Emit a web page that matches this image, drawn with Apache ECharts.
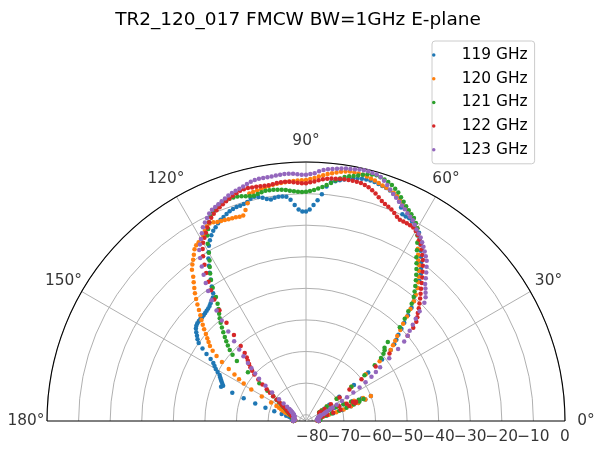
<!DOCTYPE html>
<html>
<head>
<meta charset="utf-8">
<script src="https://cdn.jsdelivr.net/npm/echarts@6/dist/echarts.min.js"></script>
<style>
  html, body { margin: 0; padding: 0; background: #fff; }
  #chart { width: 596px; height: 454px; }
</style>
</head>
<body>
<div id="chart"></div>
<script>
// E-plane pattern, normalised dB, one value per degree (0..180)
var angles = [];
for (var a = 0; a <= 180; a++) angles.push(a);

var angleTicks = [0, 30, 60, 90, 120, 150, 180];
var radialTicks = [-80, -70, -60, -50, -40, -30, -20, -10, 0];
var seriesNames = ['119 GHz', '120 GHz', '121 GHz', '122 GHz', '123 GHz'];
var colors = ['#1f77b4', '#ff7f0e', '#2ca02c', '#d62728', '#9467bd'];

var b119 = [
  -78, -78, -78.5, -78, -78, -77.5, -78, -78, -78.5, -78,
  -78, -78, -77.5, -77.5, -77, -75, -73, -70, -67, -64.5,
  -62, -60, -63, -66, -69, -72, -74.5, -76, -77, -77,
  -77, -77, -76.5, -76, -75, -73, -69, -63, -57, -51,
  -47, -45, -43.5, -42, -40, -38, -35.5, -33, -31, -29.5,
  -27, -25, -23, -21.5, -20, -18.5, -17, -15.5, -14, -12.5,
  -12, -11, -10.5, -10, -10, -9.8, -8, -6.5, -5.5, -4.8,
  -4.3, -4, -3.8, -3.5, -3.3, -3.2, -3.2, -3.3, -3.5, -3.8,
  -4.2, -4.6, -5, -5.5, -6, -7.5, -10, -12, -13.6, -15,
  -15.7, -15.7, -15, -13.5, -11.8, -10.7, -10.5, -10.5, -10.6, -11,
  -10.6, -10, -9.5, -9.1, -9.5, -10.2, -10.5, -10.7, -10.8, -11,
  -11.3, -11.8, -12.3, -12.8, -13.5, -14.3, -15, -16, -17.2, -18.6,
  -20.3, -22, -24, -26, -28, -30, -32, -33, -33.5, -34,
  -34.5, -34.8, -35, -35.2, -35.4, -35.5, -35.5, -35.6, -35.7, -36,
  -36.5, -37.3, -38.2, -39, -40, -42, -44, -46, -47.4, -48.2,
  -49, -50, -51, -51.5, -52, -52.5, -53, -53.5, -53, -57,
  -61, -65, -68.5, -71.5, -74, -75.5, -76.5, -77, -77.5, -77.5,
  -78, -78, -77.5, -78, -78, -78.5, -78, -78, -78, -78,
  -78
];
var o120 = [
  -78, -78, -78, -78.5, -78, -78, -77.5, -78, -78, -78,
  -78, -77.5, -78, -77.5, -76.5, -74.5, -72, -69.5, -67, -64.5,
  -62, -60, -62.5, -65.5, -68.5, -71.5, -74, -76, -77, -77,
  -77, -77, -77, -77, -76, -74, -70, -64, -58, -52,
  -47, -45.5, -44, -42.5, -40.5, -38.5, -36, -33.5, -31, -29,
  -27, -25.5, -24, -22.5, -21, -20, -18.5, -17, -15, -13,
  -11.5, -10.5, -9.5, -8.8, -8.2, -7.5, -6.8, -6, -5.2, -4.6,
  -4.2, -3.9, -3.6, -3.2, -2.8, -2.5, -2.2, -2, -1.9, -1.8,
  -1.8, -2, -2.3, -2.7, -3.1, -3.5, -4, -4.5, -5, -5.4,
  -5.7, -5.8, -5.8, -5.9, -6, -6.1, -6.2, -6.3, -6.5, -6.7,
  -7, -7.2, -7.4, -7.6, -7.8, -10.6, -12.5, -14, -14, -13.8,
  -13.7, -13.6, -13.4, -13.2, -13, -12.6, -12.4, -12.8, -13.8, -14.8,
  -15.5, -16, -16.4, -17.2, -18.5, -19.7, -20.8, -22, -24, -25.5,
  -27, -28.4, -30, -31.6, -33.2, -34.7, -36, -37.3, -38.6, -40,
  -41.2, -42.3, -43.4, -45, -47, -49.5, -52.5, -55, -57, -59,
  -62, -66, -69.5, -71.5, -72.5, -73.3, -74, -74.7, -75.3, -76,
  -76.5, -77, -77, -77.5, -77.5, -77.5, -78, -77.5, -78, -78,
  -78, -78, -78.5, -78, -78, -78, -78, -78.5, -78, -78,
  -78
];
var g121 = [
  -78, -78, -78, -78, -77.5, -78, -78, -78, -78, -78,
  -78, -78, -78, -77.5, -77, -75.5, -73.5, -71, -68.5, -66,
  -64, -62.5, -64, -66.5, -69, -71.5, -74, -76, -77, -77,
  -77, -77, -77, -77, -76, -74, -70, -64, -58.5, -54,
  -51, -49.5, -48.5, -48, -46, -40, -37, -34.5, -32, -30,
  -28.5, -27, -25.5, -24, -22.5, -21, -19.5, -17.5, -15.5, -13.5,
  -11.5, -10.3, -9.2, -8.5, -7.8, -7, -6, -5, -4, -3.2,
  -2.5, -2, -1.6, -1.3, -1.1, -1.2, -1.5, -2, -2.5, -3,
  -3.3, -3.8, -4.5, -5.3, -6.2, -7, -7.7, -8.3, -8.8, -9.2,
  -9.4, -9.5, -9.4, -9.2, -8.9, -8.6, -8.4, -8.2, -8.1, -8,
  -8, -8.2, -8.5, -8.8, -8.6, -8.3, -8, -7.7, -7.6, -7.6,
  -7.7, -7.9, -8.2, -8.8, -9.6, -10.5, -12, -13.8, -15.5, -17.8,
  -20.5, -22.7, -24.5, -26.3, -28.2, -30.5, -33.5, -35.5, -37, -38.3,
  -39.5, -40.8, -42.2, -43.6, -45, -46.3, -47.6, -49, -50.7, -53,
  -58, -63, -66.5, -69, -70.5, -71.5, -72.3, -73, -73.6, -74.2,
  -74.7, -75, -75.3, -75.6, -75.9, -76.1, -76.3, -76.5, -76.6, -76.8,
  -77, -77, -77, -77.2, -77.4, -77.5, -77.5, -77.6, -77.8, -78,
  -78, -78, -78, -78, -78, -78, -78.5, -78, -78, -78,
  -78
];
var r122 = [
  -78, -78, -78, -78, -78, -78.5, -78, -78, -78, -78,
  -78, -78, -78, -78, -77.5, -76.5, -75, -73, -70.5, -67.5,
  -65.5, -65, -66, -68, -70.5, -73, -75, -76.5, -77, -77,
  -77, -77, -76.5, -75, -72.5, -69, -65, -60, -54, -48,
  -40, -37, -35, -33.8, -32.8, -31.5, -30.3, -29, -27.8, -26.5,
  -25, -23.5, -22, -20.5, -19, -17.8, -16.5, -15.3, -14.3, -13.3,
  -12.5, -12, -11.8, -11.7, -11.7, -11.7, -11.2, -10.5, -9.8, -9.3,
  -8.9, -8.3, -7.5, -6.7, -6, -5.4, -5, -4.7, -4.6, -4.5,
  -4.5, -4.5, -4.6, -4.7, -4.8, -5, -5.3, -5.7, -6.1, -6.4,
  -6.7, -6.7, -6.5, -6.3, -6.1, -6, -6, -6.1, -6.3, -6.4,
  -6.4, -6.3, -6.2, -6.1, -6, -6, -6.2, -6.6, -7, -7.5,
  -8, -8.5, -9, -9.5, -10.2, -11, -12, -13.2, -14.5, -15.7,
  -16.8, -18.5, -20.5, -23, -25.5, -28.2, -30.8, -33.8, -37.5, -42,
  -46.5, -50.5, -53, -54.5, -55.5, -56.5, -57.5, -58.7, -60, -62,
  -64, -66, -67.5, -69, -70.5, -71.8, -72.8, -73.5, -74.2, -74.7,
  -75, -75.3, -75.6, -75.9, -76.2, -76.4, -76.6, -76.8, -77, -77,
  -77.2, -77.4, -77.5, -77.6, -77.8, -78, -78, -78, -78, -78,
  -78, -78, -78, -78, -78.5, -78, -78, -78, -78, -78,
  -78
];
var p123 = [
  -78, -78, -78, -78, -78, -78, -78.5, -78, -78, -78,
  -78, -78, -78, -78, -78, -78, -78, -77.5, -77.5, -77.5,
  -77, -77, -76, -75.5, -75, -74.5, -73.5, -72.5, -71, -69,
  -67, -64.5, -62, -59.5, -57, -55, -53, -49, -45, -42,
  -40, -38.5, -36.5, -34.5, -32, -29, -27.5, -26.5, -25.5, -24.5,
  -23, -21.5, -20, -18.5, -17.5, -16.5, -15.5, -14.5, -13.5, -12.8,
  -12, -11, -10, -9.4, -8.8, -8, -7.3, -6.6, -5.8, -5,
  -4, -3, -2, -1.2, -0.8, -0.7, -0.5, -0.5, -0.6, -0.8,
  -1, -1.1, -1.3, -1.5, -1.8, -2, -2.3, -2.8, -3.5, -3.8,
  -4, -4, -3.8, -3.6, -3.5, -3.5, -3.6, -3.7, -3.8, -3.9,
  -3.9, -3.9, -4, -4.3, -4.7, -5.1, -5.5, -5.8, -6.1, -6.5,
  -7, -7.5, -8, -8.4, -8.8, -9.5, -10.5, -11.5, -12.5, -14,
  -15.5, -16.8, -18.2, -20.5, -23, -25.5, -28, -30.5, -33.5, -37,
  -40.5, -44.5, -48, -51, -53.5, -56, -58, -60, -62, -65,
  -68, -71, -73, -74.5, -75.5, -76, -76.3, -76.6, -76.8, -77,
  -77.3, -77.4, -77.5, -77.6, -77.7, -77.8, -77.8, -78, -78, -78,
  -78, -78, -78, -78, -78, -78, -78, -78, -78, -78,
  -78, -78, -78, -78.5, -78, -78, -78, -78, -78, -78,
  -78
];
var seriesValues = [b119, o120, g121, r122, p123];

var FONT = 'DejaVu Sans';

function pairs(values) {
  return values.map(function (v, i) { return [v, angles[i]]; });
}

// invisible markers that only carry a tick label
function tickLabels(polarIndex, data, position, distance, fmt) {
  return {
    type: 'scatter',
    coordinateSystem: 'polar',
    polarIndex: polarIndex,
    symbolSize: 1,
    silent: true,
    z: 1,
    itemStyle: { color: 'rgba(0,0,0,0)' },
    label: {
      show: true,
      position: position,
      distance: distance,
      color: '#000',
      fontSize: 15.4,
      fontFamily: FONT,
      formatter: fmt
    },
    data: data
  };
}

function showChart() {
  var series = seriesValues.map(function (vals, k) {
    return {
      name: seriesNames[k],
      type: 'scatter',
      coordinateSystem: 'polar',
      polarIndex: 0,
      symbol: 'circle',
      symbolSize: 4.5,
      itemStyle: { color: colors[k], opacity: 1 },
      emphasis: { disabled: true },
      data: pairs(vals)
    };
  });
  // angle labels on an outer polar, radial labels below the 0 deg edge
  series.push(tickLabels(1, angleTicks.map(function (t) { return [1, t]; }), 'inside', 0,
    function (p) { return p.value[1] + '\u00b0'; }));
  series.push(tickLabels(0, radialTicks.map(function (t) { return [t, 0]; }), 'bottom', 8,
    function (p) { return String(p.value[0]).replace('-', '\u2212'); }));

  var option = {
    animation: false,
    backgroundColor: '#ffffff',
    textStyle: { fontFamily: FONT },
    title: {
      text: 'TR2_120_017 FMCW BW=1GHz E-plane',
      left: 'center',
      top: 6,
      textStyle: { fontSize: 18.5, fontWeight: 'normal', color: '#000', fontFamily: FONT }
    },
    legend: {
      data: seriesNames,
      orient: 'vertical',
      left: 432,
      top: 41,
      icon: 'circle',
      itemWidth: 46,
      itemHeight: 3.5,
      itemGap: 6.7,
      padding: [5.5, 7, 5.5, 0],
      borderColor: '#cccccc',
      borderWidth: 1,
      borderRadius: 3,
      backgroundColor: 'rgba(255,255,255,0.8)',
      textStyle: { fontSize: 15.4, color: '#000', fontFamily: FONT, lineHeight: 17 }
    },
    polar: [
      { center: [306, 421], radius: 259 },
      { center: [306, 421], radius: 280 }
    ],
    angleAxis: [{
      polarIndex: 0,
      type: 'value',
      min: 0,
      max: 180,
      interval: 30,
      startAngle: 0,
      endAngle: 180,
      clockwise: false,
      axisLine: { lineStyle: { color: '#000', width: 1.1 } },
      axisTick: { show: false },
      axisLabel: { show: false },
      splitLine: {
        lineStyle: {
          color: ['#000', '#b0b0b0', '#b0b0b0', '#b0b0b0', '#b0b0b0', '#b0b0b0', '#000'],
          width: 1
        }
      }
    }, {
      polarIndex: 1,
      type: 'value',
      min: 0,
      max: 180,
      startAngle: 0,
      endAngle: 180,
      clockwise: false,
      show: false
    }],
    radiusAxis: [{
      polarIndex: 0,
      type: 'value',
      min: -82,
      max: 0,
      splitNumber: 8,
      axisLine: { show: false },
      axisTick: { show: false },
      axisLabel: { show: false },
      splitLine: { lineStyle: { color: '#b0b0b0', width: 1 } }
    }, {
      polarIndex: 1,
      type: 'value',
      min: 0,
      max: 1,
      show: false
    }],
    series: series
  };
  var chart = echarts.init(document.getElementById('chart'));
  chart.setOption(option);
}
showChart();
</script>
</body>
</html>
